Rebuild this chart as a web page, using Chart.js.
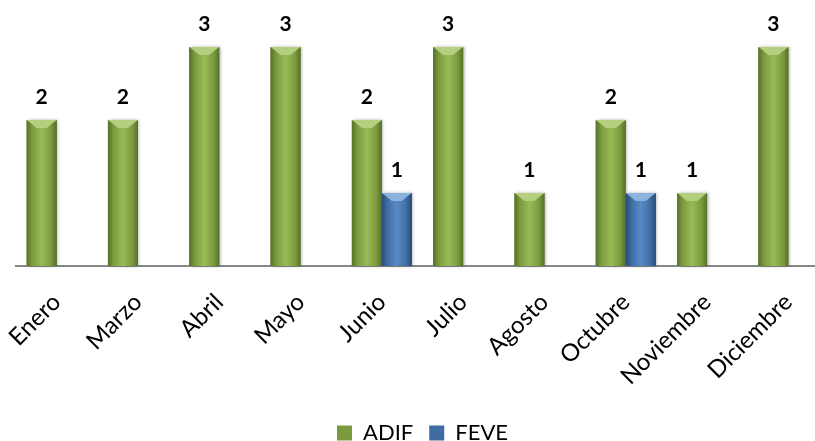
<!DOCTYPE html>
<html>
<head>
<meta charset="utf-8">
<script src="https://cdn.jsdelivr.net/npm/chart.js@4"></script>
<style>
	html, body { margin: 0; padding: 0; background: #fff; overflow: hidden; }
	#wrap { width: 829px; height: 441px; position: relative; }
</style>
</head>
<body>
<div id="wrap"><canvas id="chart"></canvas></div>
<script>
// Months shown on the x axis
const months = ["Enero", "Marzo", "Abril", "Mayo", "Junio", "Julio", "Agosto", "Octubre", "Noviembre", "Diciembre"];

// Count per month for each operator
const adifValues = [2, 2, 3, 3, 2, 3, 1, 2, 1, 3];
const feveValues = [null, null, null, null, 1, null, null, 1, null, null];

const green = { mid: "#7a9a3d", dark: "#55702a", light: "#9bbb59", cap: "#b5cf80" };
const blue = { mid: "#3f6ca3", dark: "#284b78", light: "#5a8ac4", cap: "#8db2de" };
const shades = [green, blue];

// Draws the bevelled look over each bar and the value above it
const barLook = {
	id: "barLook",
	afterDatasetsDraw(chart) {
		const ctx = chart.ctx;
		chart.data.datasets.forEach((ds, i) => {
			const meta = chart.getDatasetMeta(i);
			const c = shades[i];
			meta.data.forEach((bar, j) => {
				if (ds.data[j] == null) return;
				const { x, y, base, width } = bar.getProps(["x", "y", "base", "width"], true);
				const left = x - width / 2;
				const right = x + width / 2;

				ctx.save();
				ctx.shadowColor = "rgba(0,0,0,0.3)";
				ctx.shadowBlur = 3;
				ctx.shadowOffsetX = 1.5;
				const grad = ctx.createLinearGradient(left, 0, right, 0);
				grad.addColorStop(0, c.dark);
				grad.addColorStop(0.18, c.mid);
				grad.addColorStop(0.5, c.light);
				grad.addColorStop(0.82, c.mid);
				grad.addColorStop(1, c.dark);
				ctx.fillStyle = grad;
				ctx.fillRect(left, y, width, base - y);
				ctx.restore();

				// top cap
				ctx.fillStyle = c.cap;
				ctx.beginPath();
				ctx.moveTo(left, y);
				ctx.lineTo(right, y);
				ctx.lineTo(right - 4, y + 3);
				ctx.lineTo(x + 5, y + 8);
				ctx.lineTo(x - 5, y + 8);
				ctx.lineTo(left + 4, y + 3);
				ctx.closePath();
				ctx.fill();

				ctx.fillStyle = "#000";
				ctx.font = "bold 21px Lato";
				ctx.textAlign = "center";
				ctx.textBaseline = "middle";
				ctx.fillText(ds.data[j], x, y - 23);
			});
		});
	},
};

new Chart(document.getElementById("chart"), {
	type: "bar",
	data: {
		labels: months,
		datasets: [
			{
				label: "ADIF",
				data: adifValues,
				backgroundColor: green.mid,
				categoryPercentage: 0.738,
				barPercentage: 1,
			},
			{
				label: "FEVE",
				data: feveValues,
				backgroundColor: blue.mid,
				categoryPercentage: 0.738,
				barPercentage: 1,
			},
		],
	},
	options: {
		responsive: true,
		maintainAspectRatio: false,
		animation: false,
		layout: {
			padding: { left: 16, top: 47, right: 0, bottom: -13 },
		},
		scales: {
			y: {
				display: false,
				min: 0,
				max: 3,
			},
			x: {
				grid: { display: false, drawTicks: false },
				border: { color: "#878787", width: 2 },
				ticks: {
					color: "#000",
					font: { family: "Lato", size: 24 },
					minRotation: 45,
					maxRotation: 45,
					autoSkip: false,
					padding: 22,
				},
				afterFit(scale) {
					scale.paddingLeft = 0;
					scale.paddingRight = 0;
					scale.height = 140;
				},
			},
		},
		plugins: {
			tooltip: { enabled: false },
			legend: {
				position: "bottom",
				labels: {
					color: "#000",
					font: { family: "Lato", size: 22 },
					boxWidth: 15,
					boxHeight: 15,
					padding: 16,
				},
			},
		},
	},
	plugins: [barLook],
});
</script>
</body>
</html>
